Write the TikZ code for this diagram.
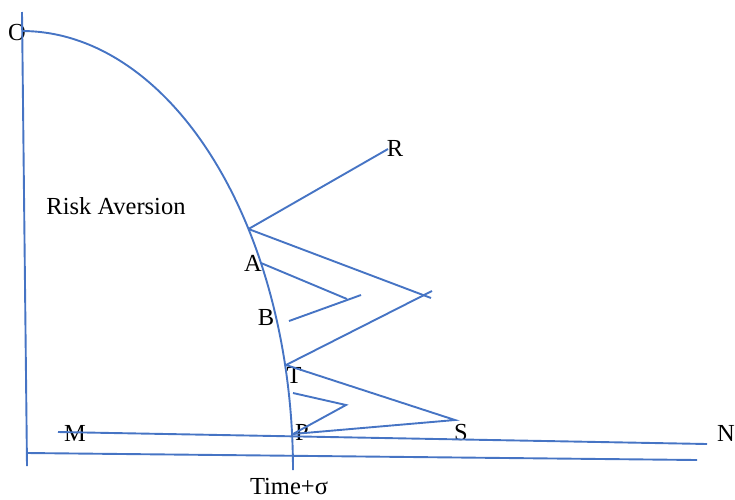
\documentclass[tikz,border=0pt]{standalone}
\usepackage{fontspec}
\setmainfont{Liberation Serif}
\begin{document}
\begin{tikzpicture}[x=1pt,y=-1pt,
  ln/.style={draw=lineblue,line width=1.9pt},
  lbl/.style={inner sep=0pt,font=\fontsize{24.5}{28}\selectfont}]
\definecolor{lineblue}{RGB}{70,116,196}
\useasboundingbox (0,0) rectangle (735,499);
% labels
\node[lbl] (O) at (17,33) {O};
\node[lbl] (RA) at (116,206) {Risk Aversion};
\node[lbl] (Rl) at (395,148) {R};
\node[lbl] (Al) at (253,263) {A};
\node[lbl] (Bl) at (266,318) {B};
\node[lbl] (Tl) at (294,375) {T};
\node[lbl] (Pl) at (302,432) {P};
\node[lbl] (Sl) at (461,432) {S};
\node[lbl] (Ml) at (75,433) {M};
\node[lbl] (Nl) at (726,433) {N};
\node[lbl] (Tm) at (289,486) {Time+σ};
% coordinates
\coordinate (vtop) at (22,12);
\coordinate (vbot) at (27,466);
\coordinate (hL) at (27,453);
\coordinate (hR) at (697,460);
\coordinate (mL) at (58,432);
\coordinate (nR) at (707,444);
\coordinate (J1) at (248.5,229);
\coordinate (R) at (388,149);
\coordinate (X1) at (431,298);
\coordinate (X2) at (432,291);
\coordinate (A) at (261,263);
\coordinate (Ae) at (347,299);
\coordinate (Bs) at (289,321);
\coordinate (Be) at (361,295);
\coordinate (T) at (286,365);
\coordinate (S) at (455,420);
\coordinate (P) at (293,434);
\coordinate (Z1) at (293,393);
\coordinate (Z2) at (346,405);
% axes
\draw[ln] (vtop) -- (vbot);
\draw[ln] (hL) -- (hR);
\draw[ln] (mL) -- (nR);
% curve
\draw[ln] plot[domain=90:0,samples=80,smooth] ({22+271*cos(\x)},{470-439*sin(\x)});
% lines
\draw[ln] (J1) -- (R);
\draw[ln] (J1) -- (X1);
\draw[ln] (T) -- (X2);
\draw[ln] (A) -- (Ae);
\draw[ln] (Bs) -- (Be);
\draw[ln] (T) -- (S) -- (P);
\draw[ln] (Z1) -- (Z2) -- (P);
\end{tikzpicture}
\end{document}
